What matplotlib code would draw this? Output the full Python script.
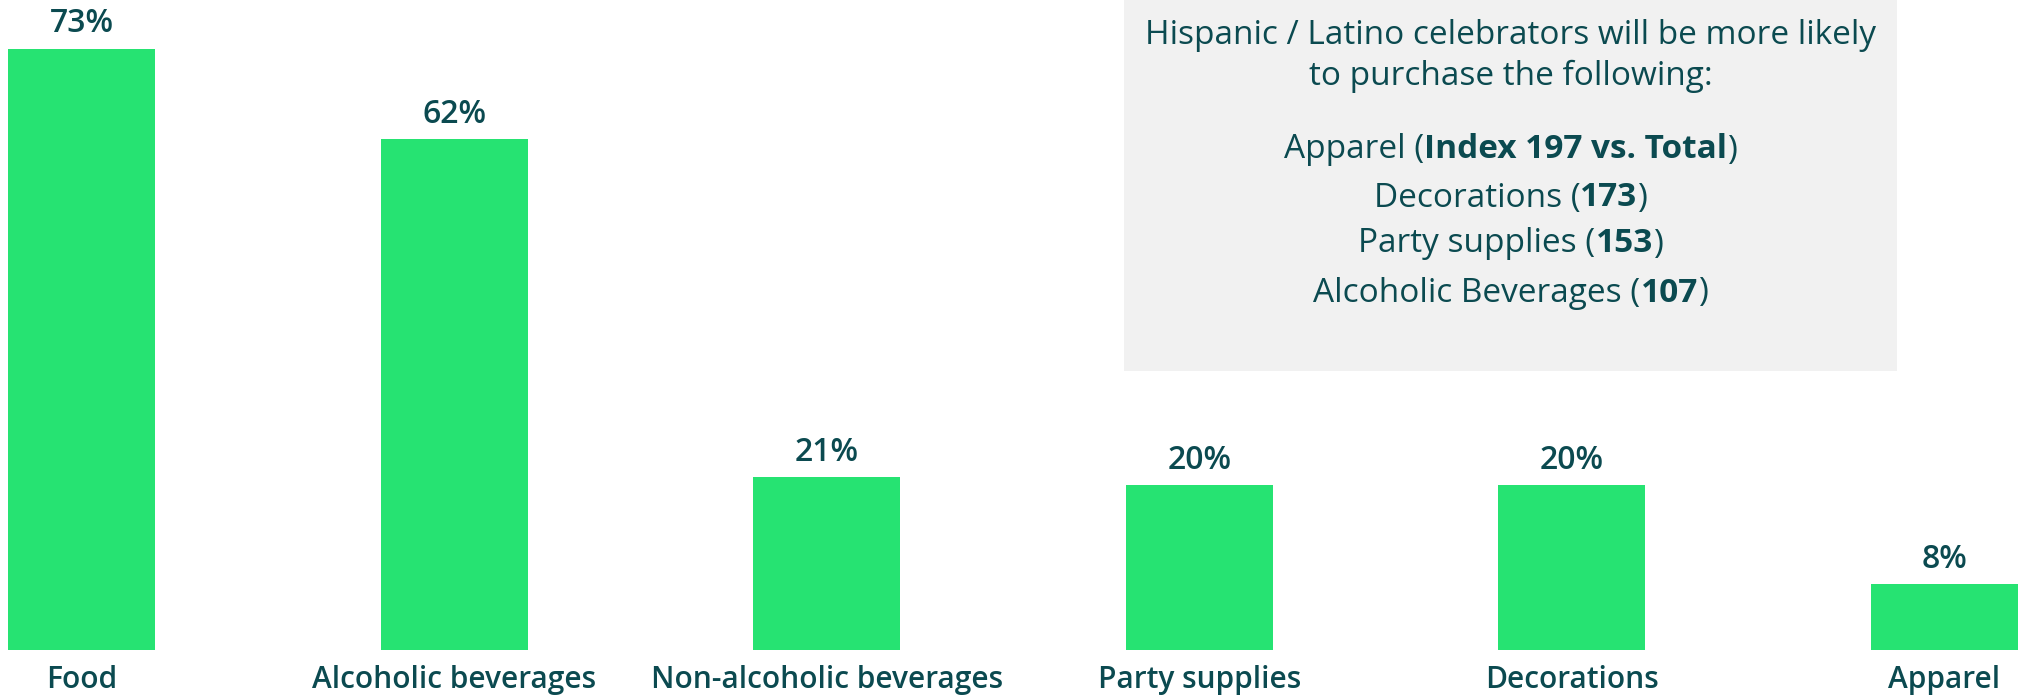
import matplotlib
matplotlib.use("Agg")
import matplotlib.pyplot as plt
from matplotlib.patches import Rectangle

categories = ["Food", "Alcoholic beverages", "Non-alcoholic beverages",
              "Party supplies", "Decorations", "Apparel"]
values = [73, 62, 21, 20, 20, 8]
value_labels = ["73%", "62%", "21%", "20%", "20%", "8%"]

box_title = ["Hispanic / Latino celebrators will be more likely",
             "to purchase the following:"]
box_items = [("Apparel (", "Index 197 vs. Total", ")"),
             ("Decorations (", "173", ")"),
             ("Party supplies (", "153", ")"),
             ("Alcoholic Beverages (", "107", ")")]

GREEN = "#26e372"
TEXT = "#0b4a50"
BOXBG = "#f1f1f1"
FONT = "Open Sans"

W, H, DPI = 2021, 697, 100
fig = plt.figure(figsize=(W / DPI, H / DPI), dpi=DPI)
fig.patch.set_facecolor("white")

# text box (figure pixel coords)
bx0, bx1, by0, by1 = 1124, 1897, 0, 371
fig.patches.append(Rectangle((bx0 / W, 1 - by1 / H), (bx1 - bx0) / W, (by1 - by0) / H,
                             transform=fig.transFigure, facecolor=BOXBG,
                             edgecolor="none", zorder=0))

ax = fig.add_axes([8 / W, 47 / H, 2010 / W, 650 / H])
ax.set_facecolor("none")
x = list(range(len(categories)))
width = 0.3945
ax.bar(x, values, width=width, color=GREEN, zorder=2)
ax.set_xlim(-width / 2, len(categories) - 1 + width / 2)
ax.set_ylim(0, 650 / 8.237)
ax.axis("off")

for i, (v, lab) in enumerate(zip(values, value_labels)):
    ax.annotate(lab, xy=(i, v), xytext=(0, 25 * 0.72), textcoords="offset points",
                ha="center", va="center", fontsize=23, fontweight="semibold",
                color=TEXT, family=FONT)
    ax.annotate(categories[i], xy=(i, 0), xytext=(0, -30 * 0.72),
                textcoords="offset points", ha="center", va="center",
                fontsize=21.5, fontweight="semibold", color=TEXT, family=FONT)

cx = (bx0 + bx1) / 2
fs = 24
title_y = [35, 76]
for t, yy in zip(box_title, title_y):
    fig.text(cx / W, 1 - yy / H, t, ha="center", va="center", fontsize=fs,
             color=TEXT, family=FONT)

renderer = fig.canvas.get_renderer()
item_y = [150, 198, 244, 293]
for (a, b, c), yy in zip(box_items, item_y):
    parts = [(a, "normal"), (b, "bold"), (c, "normal")]
    texts = []
    widths = []
    for s, wgt in parts:
        t = fig.text(0, 1 - yy / H, s, ha="left", va="center", fontsize=fs,
                     fontweight=wgt, color=TEXT, family=FONT)
        bb = t.get_window_extent(renderer)
        texts.append(t)
        widths.append(bb.width)
    total = sum(widths)
    start = cx - total / 2
    for t, wdt in zip(texts, widths):
        t.set_x(start / W)
        start += wdt

fig.savefig("out.png", dpi=DPI, facecolor="white")
